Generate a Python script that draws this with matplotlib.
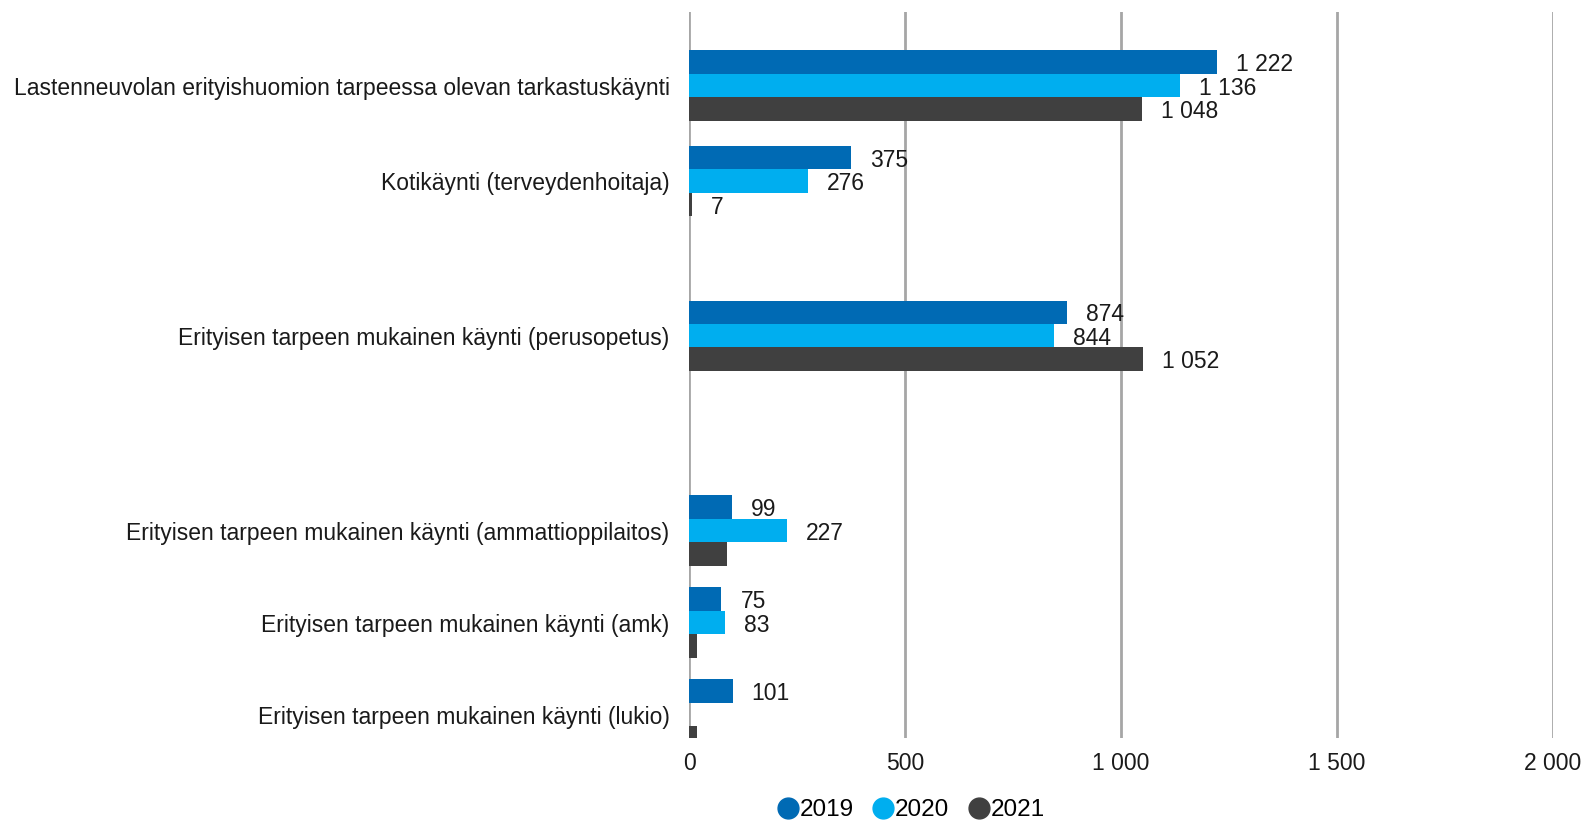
import matplotlib
matplotlib.use('Agg')
import matplotlib.pyplot as plt
from matplotlib.lines import Line2D
from matplotlib.ticker import FuncFormatter

# Käyntimäärät vuosittain
categories = [
    'Lastenneuvolan erityishuomion tarpeessa olevan tarkastuskäynti',
    'Kotikäynti (terveydenhoitaja)',
    'Erityisen tarpeen mukainen käynti (perusopetus)',
    'Erityisen tarpeen mukainen käynti (ammattioppilaitos)',
    'Erityisen tarpeen mukainen käynti (amk)',
    'Erityisen tarpeen mukainen käynti (lukio)',
]
years = ['2019', '2020', '2021']
v2019 = [1222, 375, 874, 99, 75, 101]
v2020 = [1136, 276, 844, 227, 83, None]
v2021 = [1048, 7, 1052, 89, 19, 19]
# arvot joille piirretään selite palkin perään
show2019 = [True, True, True, True, True, True]
show2020 = [True, True, True, True, True, False]
show2021 = [True, True, True, False, False, False]

colors = ['#006ab4', '#00aeef', '#404040']
row_pos = [6.84, 5.80, 4.12, 2.0, 1.0, 0.0]
bar_h = 0.255

plt.rcParams['font.family'] = ['Liberation Sans', 'DejaVu Sans']
plt.rcParams['font.size'] = 16.5

fig = plt.figure(figsize=(15.94, 8.24), dpi=100)
ax = fig.add_axes([689 / 1594, 1 - 738 / 824, 864 / 1594, 726 / 824])


def fmt(v, pos=None):
    return f'{int(v):,}'.replace(',', ' ')


series = [v2019, v2020, v2021]
shows = [show2019, show2020, show2021]
for j, (vals, show) in enumerate(zip(series, shows)):
    for y0, v, s in zip(row_pos, vals, show):
        if v is None:
            continue
        y = y0 + (1 - j) * bar_h
        ax.barh(y, v, height=bar_h, color=colors[j], zorder=3)
        if s:
            ax.text(v + 44, y - 0.03, fmt(v), va='center', ha='left',
                    fontsize=16.5, color='#1a1a1a', zorder=4)

ax.set_xlim(0, 2000)
ax.set_ylim(-0.255, 7.64)
ax.set_xticks([0, 500, 1000, 1500, 2000])
ax.xaxis.set_major_formatter(FuncFormatter(fmt))
ax.set_yticks(row_pos)
ax.set_yticklabels(categories)
ax.tick_params(axis='both', length=0, labelsize=16.5, colors='#1a1a1a')
ax.tick_params(axis='y', pad=14)
ax.tick_params(axis='x', pad=10)
ax.grid(axis='x', color='#a6a6a6', linewidth=2, zorder=0)
for sp in ax.spines.values():
    sp.set_visible(False)

handles = [Line2D([], [], marker='o', linestyle='', markersize=15,
                  markerfacecolor=c, markeredgecolor=c) for c in colors]
fig.legend(handles, years, loc='center', bbox_to_anchor=(0.571, 1 - 810 / 824),
           ncol=3, frameon=False, fontsize=17.5, handletextpad=0.0,
           columnspacing=0.7, handlelength=1.0)

fig.savefig('out.png', dpi=100)
